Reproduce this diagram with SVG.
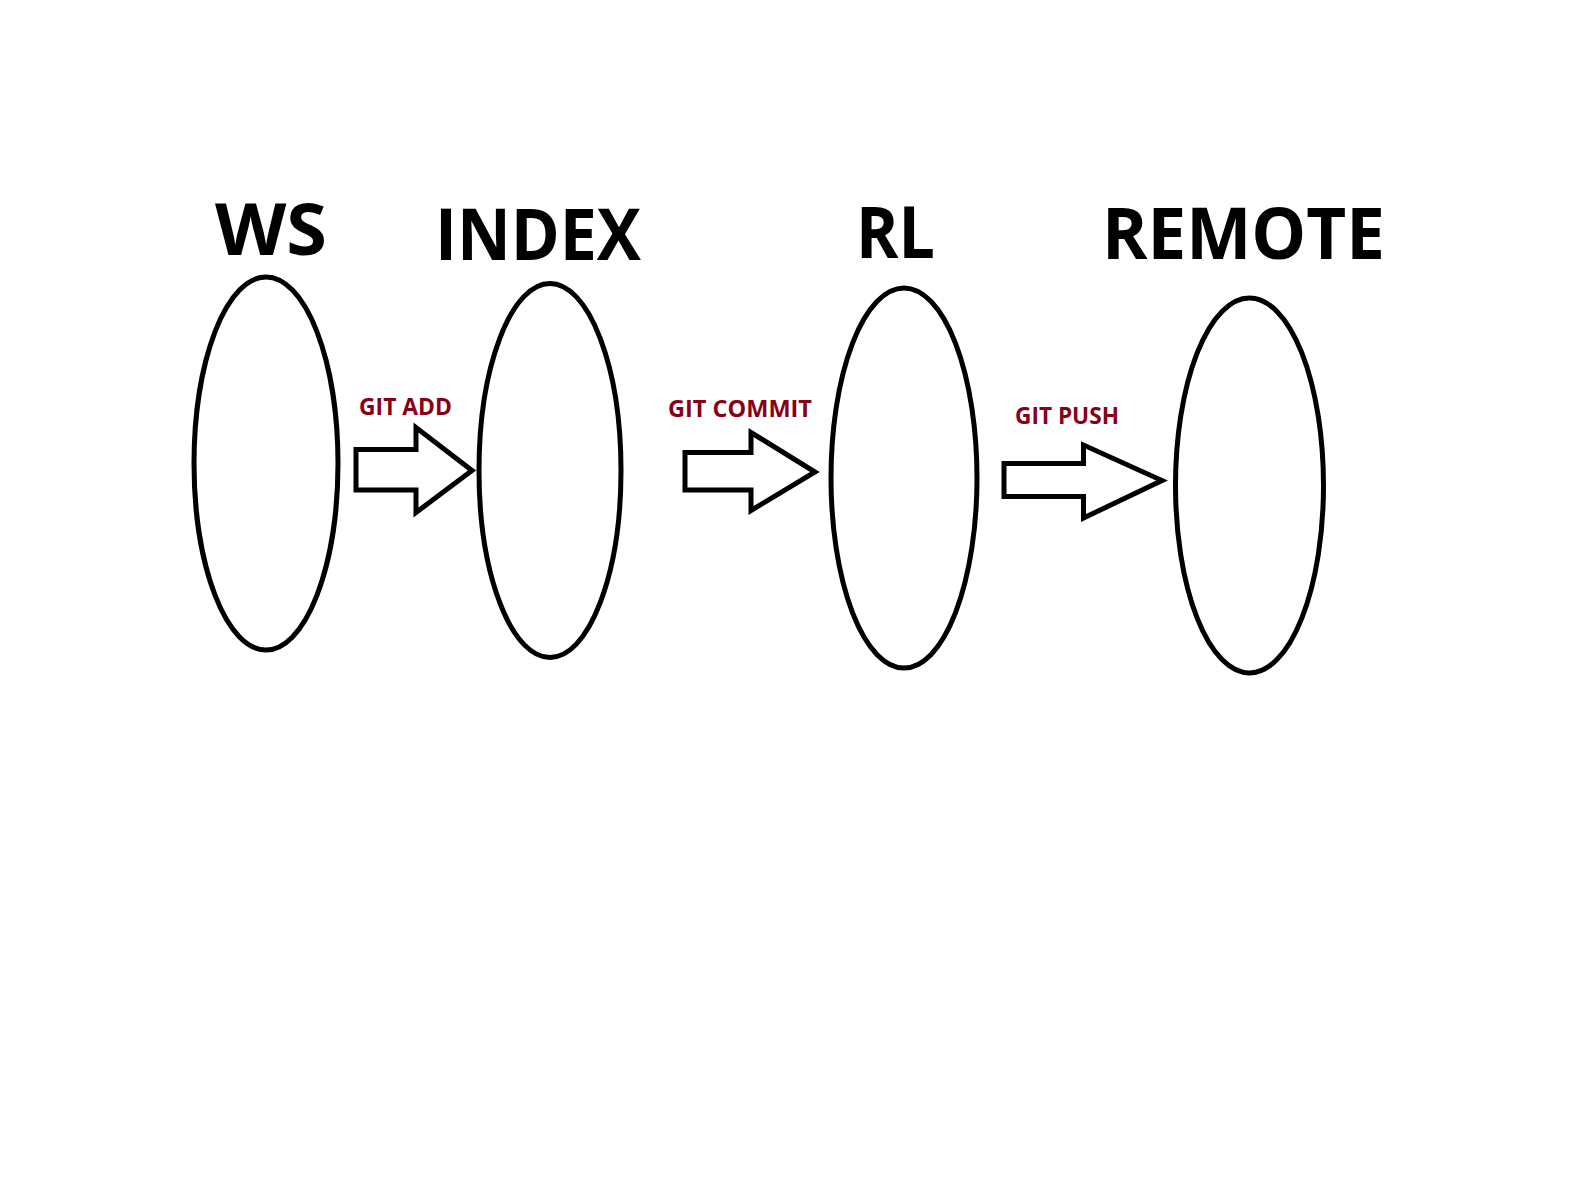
<svg xmlns="http://www.w3.org/2000/svg" width="1594" height="1182" viewBox="0 0 1594 1182">
<style>
.node ellipse{fill:#fff;stroke:#000;stroke-width:5}
.title{font-family:"Open Sans","Liberation Sans",sans-serif;font-weight:bold;font-size:72px;fill:#000}
.lbl{font-family:"Open Sans","Liberation Sans",sans-serif;font-weight:bold;font-size:22.5px;fill:#880015}
.arrow{fill:#fff;stroke:#000;stroke-width:5;stroke-linejoin:miter}
</style>
<rect width="1594" height="1182" fill="#fff"/>
<g id="ws" class="node">
<ellipse cx="266" cy="463.5" rx="72" ry="186.5"/>
<text class="title" x="215" y="255" textLength="112" lengthAdjust="spacingAndGlyphs">WS</text>
</g>
<g id="index" class="node">
<ellipse cx="550" cy="470.5" rx="71" ry="187"/>
<text class="title" x="435" y="260" textLength="206" lengthAdjust="spacingAndGlyphs">INDEX</text>
</g>
<g id="rl" class="node">
<ellipse cx="904" cy="478" rx="73" ry="190"/>
<text class="title" x="856" y="257.5" textLength="79" lengthAdjust="spacingAndGlyphs">RL</text>
</g>
<g id="remote" class="node">
<ellipse cx="1249.5" cy="485.5" rx="74" ry="187.5"/>
<text class="title" x="1102" y="258.5" textLength="283" lengthAdjust="spacingAndGlyphs">REMOTE</text>
</g>
<g id="connectors">
<g id="git-add">
<polygon class="arrow" points="356,449.5 416,449.5 416,427.5 472,470.5 416,512.5 416,490 356,490"/>
<text class="lbl" x="359" y="415" textLength="93" lengthAdjust="spacingAndGlyphs">GIT ADD</text>
</g>
<g id="git-commit">
<polygon class="arrow" points="685,452.5 751,452.5 751,432.5 815,472 751,510.5 751,490 685,490"/>
<text class="lbl" x="668" y="416.5" textLength="144" lengthAdjust="spacingAndGlyphs">GIT COMMIT</text>
</g>
<g id="git-push">
<polygon class="arrow" points="1004,463.5 1083.5,463.5 1083.5,445 1162,480.5 1083.5,518 1083.5,496.5 1004,496.5"/>
<text class="lbl" x="1015" y="424" textLength="104" lengthAdjust="spacingAndGlyphs">GIT PUSH</text>
</g>
</g>
</svg>
